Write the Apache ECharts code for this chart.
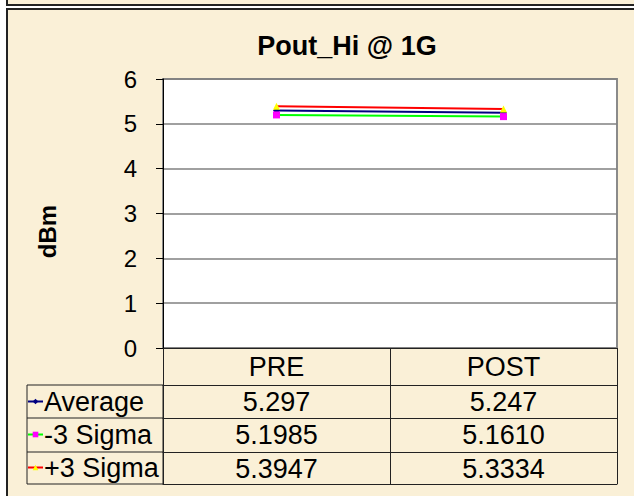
<!DOCTYPE html>
<html>
<head>
<meta charset="utf-8">
<style>
  html, body { margin: 0; padding: 0; background: #ffffff; }
  #chart { width: 634px; height: 496px; }
</style>
<script src="https://cdn.jsdelivr.net/npm/echarts@6/dist/echarts.min.js"></script>
</head>
<body>
<div id="chart"></div>
<script>
// 数据
const categories = ['PRE', 'POST']
const average = [5.297, 5.247]
const minus3Sigma = [5.1985, 5.1610]
const plus3Sigma = [5.3947, 5.3334]
const seriesNames = ['Average', '-3 Sigma', '+3 Sigma']

const FONT = 'Arial, "Liberation Sans", sans-serif'
const PAPER = '#faf0d7'
const BORDER = '#222222'
const TABLE_FONT = 27

// 表格的一行: 用一条额外的 x 轴来画横线和数值
function rowAxis (values, digits, offset) {
  return {
    type: 'category',
    position: 'bottom',
    offset: offset,
    data: values.map(v => v.toFixed(digits)),
    axisLine: { show: true, lineStyle: { color: BORDER, width: 1 } },
    axisTick: { show: false },
    splitLine: { show: false },
    axisLabel: {
      interval: 0, margin: 0, color: '#000', fontFamily: FONT,
      fontSize: TABLE_FONT, lineHeight: 33
    }
  }
}

const chart = echarts.init(document.getElementById('chart'), null, { renderer: 'svg' })

const option = {
  animation: false,
  backgroundColor: '#ffffff',
  title: {
    text: 'Pout_Hi @ 1G',
    left: 342,
    textAlign: 'center',
    top: 27,
    textStyle: { fontFamily: FONT, fontSize: 27, fontWeight: 'bold', color: '#000' }
  },
  graphic: [
    // 上一个图的边框
    { type: 'rect', z: -10, shape: { x: 7, y: -200, width: 700, height: 205 },
      style: { fill: PAPER, stroke: BORDER, lineWidth: 2 } },
    // 当前图表区
    { type: 'rect', z: -10, shape: { x: 7, y: 9, width: 700, height: 600 },
      style: { fill: PAPER, stroke: BORDER, lineWidth: 2 } },
    // 表格左侧图例列
    { type: 'rect', shape: { x: 27, y: 385, width: 136, height: 99 },
      style: { fill: 'none', stroke: BORDER, lineWidth: 1 } },
    { type: 'line', shape: { x1: 27, y1: 418, x2: 163, y2: 418 },
      style: { stroke: BORDER, lineWidth: 1 } },
    { type: 'line', shape: { x1: 27, y1: 452, x2: 163, y2: 452 },
      style: { stroke: BORDER, lineWidth: 1 } }
  ],
  legend: {
    orient: 'vertical',
    left: 27,
    top: 385,
    padding: 0,
    itemGap: 0,
    itemWidth: 15,
    itemHeight: 7,
    selectedMode: false,
    data: seriesNames,
    textStyle: { fontFamily: FONT, fontSize: TABLE_FONT, lineHeight: 33, color: '#000', padding: [0, 0, 0, -4] }
  },
  grid: {
    left: 163, top: 79, width: 454, height: 269,
    show: true, backgroundColor: '#ffffff', borderColor: '#8a8a8a', borderWidth: 2
  },
  xAxis: [
    {
      type: 'category',
      position: 'bottom',
      data: categories,
      axisLine: { show: true, lineStyle: { color: BORDER, width: 1 } },
      axisTick: { show: true, length: 136, lineStyle: { color: BORDER, width: 1 } },
      splitLine: { show: false },
      axisLabel: {
        interval: 0, margin: 0, color: '#000', fontFamily: FONT,
        fontSize: TABLE_FONT, lineHeight: 37
      }
    },
    rowAxis(average, 3, 37),
    rowAxis(minus3Sigma, 4, 70),
    rowAxis(plus3Sigma, 4, 104),
    {
      type: 'category', position: 'bottom', offset: 136, data: categories,
      axisLine: { show: true, lineStyle: { color: BORDER, width: 1 } },
      axisTick: { show: false }, axisLabel: { show: false }
    }
  ],
  yAxis: {
    type: 'value',
    min: 0, max: 6, interval: 1,
    name: 'dBm',
    nameLocation: 'middle',
    nameRotate: 90,
    nameGap: 104,
    nameTextStyle: { fontFamily: FONT, fontSize: 24, fontWeight: 'bold', color: '#000', padding: [0, 36, 0, 0] },
    axisLine: { show: true, lineStyle: { color: '#000', width: 1 } },
    axisTick: { show: true, length: 7, lineStyle: { color: '#000' } },
    axisLabel: { margin: 26, fontFamily: FONT, fontSize: 24, color: '#000' },
    splitLine: { show: true, lineStyle: { color: '#808080', width: 1.5 } }
  },
  series: [
    {
      name: 'Average', type: 'line', data: average,
      symbol: 'diamond', symbolSize: 7,
      lineStyle: { color: '#000080', width: 2 },
      itemStyle: { color: '#000080' }
    },
    {
      name: '-3 Sigma', type: 'line', data: minus3Sigma,
      symbol: 'rect', symbolSize: 7,
      lineStyle: { color: '#00ff00', width: 2 },
      itemStyle: { color: '#ff00ff' }
    },
    {
      name: '+3 Sigma', type: 'line', data: plus3Sigma,
      symbol: 'triangle', symbolSize: 7,
      lineStyle: { color: '#ff0000', width: 2 },
      itemStyle: { color: '#ffff00' }
    }
  ]
}

chart.setOption(option)
</script>
</body>
</html>
